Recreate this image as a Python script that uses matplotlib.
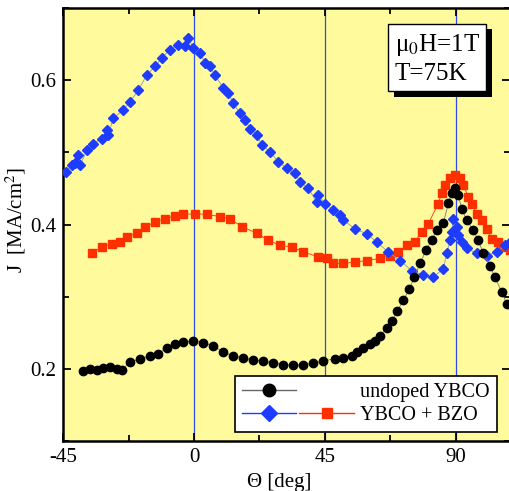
import numpy as np
import matplotlib
matplotlib.use("Agg")
import matplotlib.pyplot as plt
from matplotlib.lines import Line2D
from matplotlib.legend_handler import HandlerTuple
from matplotlib.ticker import MultipleLocator
import matplotlib.patheffects as pe

plt.rcParams['font.family'] = ['Liberation Serif', 'DejaVu Serif']
plt.rcParams['mathtext.fontset'] = 'stix'
plt.rcParams['axes.unicode_minus'] = False

# undoped YBCO (black circles)
theta_ybco = [-38.1, -35.8, -33.5, -31.2, -28.9, -26.6, -24.9, -22.0, -18.6, -15.1,
              -12.3, -9.4, -6.5, -3.7, -0.2, 3.2, 6.6, 10.1, 13.5, 17.0,
              20.4, 23.8, 27.3, 30.7, 34.2, 37.6, 41.0, 44.5, 48.5, 51.4,
              54.2, 56.0, 58.2, 60.5, 62.3, 64.0, 66.3, 68.0, 69.9, 72.0,
              74.0, 75.8, 77.7, 79.8, 81.8, 83.5, 85.8, 87.5, 88.6, 89.8,
              90.9, 92.1, 93.8, 96.1, 97.8, 99.5, 101.8, 103.5, 105.8, 107.6]
j_ybco = [0.197, 0.200, 0.199, 0.201, 0.202, 0.200, 0.199, 0.209, 0.214, 0.218,
          0.221, 0.229, 0.234, 0.237, 0.239, 0.236, 0.232, 0.223, 0.218, 0.215,
          0.212, 0.211, 0.208, 0.206, 0.205, 0.206, 0.208, 0.211, 0.214, 0.215,
          0.218, 0.223, 0.229, 0.235, 0.239, 0.246, 0.256, 0.266, 0.280, 0.295,
          0.310, 0.327, 0.346, 0.364, 0.379, 0.392, 0.402, 0.430, 0.443, 0.450,
          0.441, 0.422, 0.406, 0.392, 0.378, 0.360, 0.343, 0.327, 0.307, 0.290]

# YBCO + BZO, blue diamonds
theta_bzo_b = [-44.0, -42.1, -40.9, -39.8, -39.2, -36.9, -34.6, -31.8, -30.0, -29.5,
               -27.8, -24.3, -22.0, -19.2, -16.3, -13.4, -11.1, -8.3, -5.4, -3.1,
               -2.0, -0.2, 2.1, 3.8, 5.5, 7.2, 10.1, 11.8, 13.5, 15.8,
               17.5, 19.3, 21.6, 23.3, 26.1, 29.0, 31.9, 34.7, 36.5, 39.3,
               42.2, 42.8, 45.1, 47.9, 50.2, 51.4, 55.4, 59.4, 62.8, 66.8,
               70.9, 74.9, 78.9, 82.3, 85.8, 86.9, 88.1, 88.6, 89.2, 90.4,
               90.9, 92.1, 93.8, 97.3, 100.7, 104.1, 107.0, 108.7]
j_bzo_b = [0.473, 0.482, 0.485, 0.496, 0.482, 0.503, 0.512, 0.519, 0.531, 0.524,
           0.547, 0.559, 0.570, 0.586, 0.607, 0.619, 0.631, 0.642, 0.649, 0.647,
           0.658, 0.644, 0.637, 0.624, 0.619, 0.607, 0.589, 0.582, 0.568, 0.554,
           0.545, 0.533, 0.524, 0.510, 0.501, 0.487, 0.478, 0.471, 0.459, 0.450,
           0.431, 0.441, 0.429, 0.420, 0.413, 0.406, 0.394, 0.387, 0.376, 0.362,
           0.350, 0.336, 0.330, 0.327, 0.339, 0.360, 0.378, 0.390, 0.408, 0.397,
           0.385, 0.376, 0.367, 0.360, 0.357, 0.362, 0.371, 0.376]

# YBCO + BZO, red squares
theta_bzo_r = [-35.2, -31.8, -28.3, -25.5, -23.2, -19.7, -16.9, -13.4, -10.0, -6.5,
               -3.7, 0.3, 4.4, 8.9, 12.4, 16.4, 21.6, 25.6, 29.6, 33.6,
               37.6, 42.8, 45.6, 47.9, 51.4, 55.4, 59.4, 64.0, 67.4, 70.3,
               73.2, 76.0, 78.3, 80.6, 84.0, 85.2, 86.3, 88.1, 89.8, 91.5,
               92.6, 94.4, 95.5, 97.3, 99.0, 100.7, 102.4, 104.7, 106.4, 108.7]
j_bzo_r = [0.360, 0.369, 0.373, 0.376, 0.383, 0.388, 0.396, 0.404, 0.408, 0.412,
           0.414, 0.415, 0.414, 0.411, 0.408, 0.397, 0.388, 0.378, 0.371, 0.369,
           0.362, 0.355, 0.353, 0.346, 0.346, 0.348, 0.350, 0.353, 0.357, 0.362,
           0.371, 0.376, 0.390, 0.401, 0.429, 0.443, 0.455, 0.464, 0.469, 0.464,
           0.455, 0.438, 0.429, 0.415, 0.406, 0.394, 0.380, 0.376, 0.369, 0.364]

guide_angles = [0, 45, 90]

yellow = '#fffa9c'
blue = '#1e3cff'
red = '#ff3000'

fig = plt.figure(figsize=(5.10, 4.91), dpi=100)
ax = fig.add_axes([0.124, 0.1018, 0.876, 0.8819])
ax.set_facecolor(yellow)

for a in guide_angles:
    ax.axvline(a, color='#2e4cf0', lw=0.9, zorder=1)

ax.plot(theta_bzo_r, j_bzo_r, color=red, lw=0.6, marker='s', ms=6,
        mec=red, mfc=red, zorder=2)
ax.plot(theta_bzo_b, j_bzo_b, color='#8890c0', lw=0.6, marker='D', ms=5.5,
        mec=blue, mfc=blue, zorder=3)
ax.plot(theta_ybco, j_ybco, color='#777777', lw=0.6, marker='o', ms=6,
        mec='k', mfc='k', zorder=4)

ax.set_xlim(-45, 108.7)
ax.set_ylim(0.1, 0.7)
ax.xaxis.set_major_locator(MultipleLocator(45))
ax.xaxis.set_minor_locator(MultipleLocator(22.5))
ax.yaxis.set_major_locator(MultipleLocator(0.2))
ax.yaxis.set_minor_locator(MultipleLocator(0.1))
ax.tick_params(which='both', direction='in', top=True, right=True, width=1.3,
               labelsize=15, pad=5)
ax.tick_params(which='major', length=6)
ax.tick_params(which='minor', length=4)
for s in ax.spines.values():
    s.set_linewidth(1.8)
ax.spines['right'].set_visible(False)

ax.set_xlabel('Θ [deg]', fontsize=15)
ax.xaxis.set_label_coords(0.483, -0.075)
ax.set_ylabel('J  [MA/cm$^2$]', fontsize=15)
ax.yaxis.set_label_coords(-0.078, 0.51)

t = ax.text(0.742, 0.945, 'μ$_0$H=1T\nT=75K', transform=ax.transAxes,
            fontsize=18, va='top', ha='left', linespacing=1.3,
            bbox=dict(boxstyle='square,pad=0.25', fc='white', ec='black', lw=1))
t.get_bbox_patch().set_path_effects([
    pe.SimplePatchShadow(offset=(4, -4), shadow_rgbFace='black', alpha=1),
    pe.Normal()])

h_black = Line2D([], [], color='#666666', lw=1, marker='o', ms=9, mfc='k', mec='k')
h_blank = Line2D([], [], linestyle='none')
h_blue = Line2D([], [], color=blue, lw=1, marker='D', ms=8, mfc=blue, mec=blue)
h_red = Line2D([], [], color=red, lw=1, marker='s', ms=7, mfc=red, mec=red)
leg = ax.legend([(h_black, h_blank), (h_blue, h_red)],
                ['undoped YBCO', 'YBCO + BZO'],
                handler_map={tuple: HandlerTuple(ndivide=None, pad=0.15)},
                loc='lower right', bbox_to_anchor=(0.971, 0.021), borderaxespad=0,
                fontsize=14.5, handlelength=5.6, handletextpad=0.3, labelspacing=0.2,
                borderpad=0.35, numpoints=1, fancybox=False, framealpha=1,
                edgecolor='black')
leg.get_frame().set_linewidth(1.2)
leg.set_zorder(10)

fig.savefig('out.png', dpi=100)
